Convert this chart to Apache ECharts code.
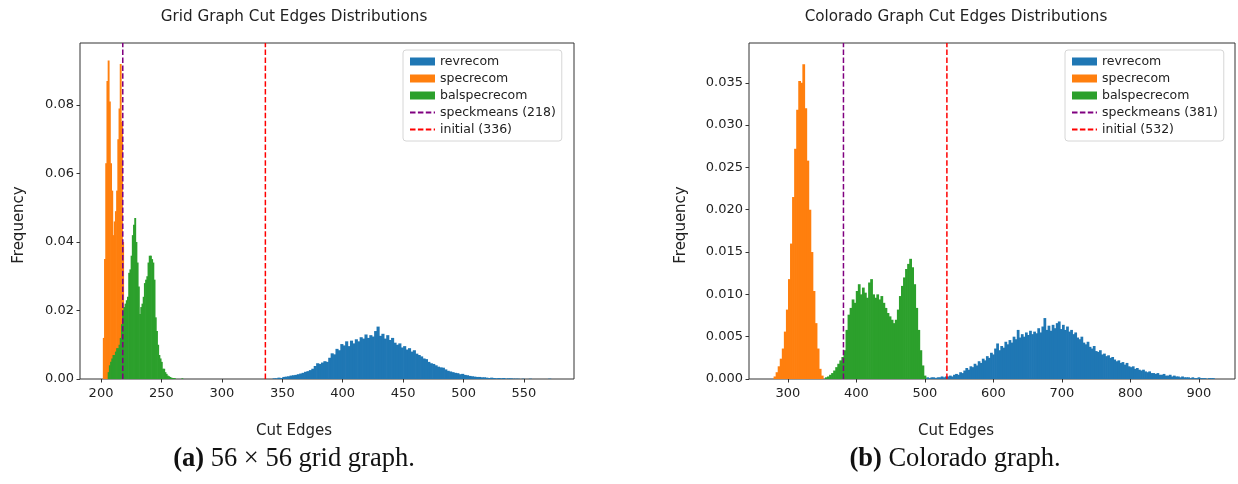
<!DOCTYPE html>
<html>
<head>
<meta charset="utf-8">
<script src="https://cdn.jsdelivr.net/npm/echarts@6/dist/echarts.min.js"></script>
<style>
html, body { margin: 0; padding: 0; background: #fff; }
#chart { width: 1238px; height: 484px; }
</style>
</head>
<body>
<div id="chart"></div>
<script>
// tick labels
var gridXTicks = [200, 250, 300, 350, 400, 450, 500, 550];
var gridYTicks = [0, 0.02, 0.04, 0.06, 0.08];
var coXTicks = [300, 400, 500, 600, 700, 800, 900];
var coYTicks = [0, 0.005, 0.01, 0.015, 0.02, 0.025, 0.03, 0.035];

// grid graph histograms (first bin edge, bin width, densities)
var gridRevStart = 342, gridRevBin = 2;
var gridRev = [
  0.0002, 0.0002, 0.0004, 0.0003, 0.0006, 0.0007, 0.0008, 0.0010, 0.0011, 0.0012,
  0.0014, 0.0016, 0.0018, 0.0021, 0.0023, 0.0026, 0.0030, 0.0038, 0.0046, 0.0044,
  0.0048, 0.0052, 0.0050, 0.0062, 0.0075, 0.0072, 0.0088, 0.0084, 0.0102, 0.0098,
  0.0110, 0.0096, 0.0112, 0.0104, 0.0116, 0.0110, 0.0122, 0.0118, 0.0130, 0.0120,
  0.0128, 0.0124, 0.0140, 0.0153, 0.0126, 0.0132, 0.0118, 0.0128, 0.0114, 0.0120,
  0.0106, 0.0100, 0.0104, 0.0092, 0.0096, 0.0086, 0.0090, 0.0080, 0.0084, 0.0074,
  0.0070, 0.0066, 0.0060, 0.0058, 0.0050, 0.0046, 0.0044, 0.0040, 0.0036, 0.0034,
  0.0033, 0.0028, 0.0024, 0.0022, 0.0020, 0.0018, 0.0017, 0.0014, 0.0015, 0.0012,
  0.0011, 0.0009, 0.0008, 0.0007, 0.0006, 0.0006, 0.0005, 0.0005, 0.0004, 0.0003,
  0.0004, 0.0003, 0.0002, 0.0003, 0.0002, 0.0003, 0.0001, 0.0002, 0.0002, 0.0001,
  0.0001, 0.0001, 0, 0.0001, 0, 0, 0.0001, 0, 0, 0, 0, 0, 0, 0, 0.0001
];
var gridSpecStart = 201.5, gridSpecBin = 1;
var gridSpec = [
  0.012, 0.035, 0.063, 0.087, 0.093, 0.081, 0.063, 0.055, 0.042, 0.046,
  0.049, 0.055, 0.070, 0.079, 0.092, 0.075, 0.040
];
var gridBalStart = 205.5, gridBalBin = 1;
var gridBal = [
  0.002, 0.004, 0.005, 0.006, 0.007, 0.007, 0.008, 0.009, 0.009, 0.010,
  0.012, 0.016, 0.020, 0.021, 0.022, 0.023, 0.024, 0.031, 0.032, 0.036,
  0.042, 0.045, 0.047, 0.040, 0.034, 0.027, 0.019, 0.021, 0.022, 0.024,
  0.028, 0.029, 0.030, 0.034, 0.036, 0.036, 0.035, 0.034, 0.029, 0.018,
  0.014, 0.010, 0.007, 0.006, 0.005, 0.003, 0.003, 0.002, 0.0015, 0.001,
  0.0008, 0.0006, 0.0004, 0.0003, 0.0003, 0.0002, 0, 0, 0, 0,
  0, 0.0002
];
var gridSpeckmeans = 218, gridInitial = 336;

// colorado graph histograms
var coRevStart = 502, coRevBin = 3;
var coRev = [
  0.0002, 0.0001, 0.0002, 0.0002, 0.0001, 0.0002, 0.0002, 0.0003, 0.0002, 0.0003,
  0.0003, 0.0004, 0.0003, 0.0005, 0.0006, 0.0005, 0.0008, 0.0007, 0.0010, 0.0013,
  0.0011, 0.0015, 0.0014, 0.0018, 0.0016, 0.0021, 0.0019, 0.0024, 0.0022, 0.0027,
  0.0025, 0.0031, 0.0029, 0.0036, 0.0042, 0.0034, 0.0039, 0.0037, 0.0044, 0.0041,
  0.0046, 0.0043, 0.0050, 0.0047, 0.0058, 0.0049, 0.0053, 0.0050, 0.0055, 0.0052,
  0.0057, 0.0053, 0.0056, 0.0054, 0.0060, 0.0055, 0.0062, 0.0072, 0.0058, 0.0063,
  0.0057, 0.0064, 0.0060, 0.0066, 0.0068, 0.0059, 0.0064, 0.0058, 0.0062, 0.0056,
  0.0058, 0.0053, 0.0055, 0.0049, 0.0047, 0.0050, 0.0043, 0.0041, 0.0044, 0.0038,
  0.0036, 0.0039, 0.0033, 0.0032, 0.0034, 0.0029, 0.0030, 0.0027, 0.0028, 0.0025,
  0.0026, 0.0023, 0.0021, 0.0022, 0.0019, 0.0020, 0.0017, 0.0019, 0.0015, 0.0014,
  0.0015, 0.0012, 0.0013, 0.0011, 0.0010, 0.0011, 0.0009, 0.0008, 0.0009, 0.0007,
  0.0007, 0.0006, 0.0007, 0.0005, 0.0005, 0.0006, 0.0004, 0.0004, 0.0005, 0.0003,
  0.0004, 0.0003, 0.0003, 0.0002, 0.0003, 0.0002, 0.0002, 0.0002, 0.0001, 0.0002,
  0.0001, 0.0001, 0.0002, 0.0001, 0.0001, 0.0001, 0, 0.0001, 0.0001, 0.0001
];
var coSpecStart = 279, coSpecBin = 3;
var coSpec = [
  0.0003, 0.0008, 0.0015, 0.0024, 0.0036, 0.0056, 0.0082, 0.0118, 0.0160, 0.0215,
  0.0272, 0.0318, 0.0352, 0.0350, 0.0372, 0.0320, 0.0258, 0.0200, 0.0150, 0.0104,
  0.0066, 0.0036, 0.0012, 0.0004
];
var coBalStart = 354, coBalBin = 3;
var coBal = [
  0.0002, 0.0003, 0.0005, 0.0007, 0.0010, 0.0014, 0.0018, 0.0022, 0.0026, 0.0034,
  0.0058, 0.0076, 0.0084, 0.0094, 0.0090, 0.0104, 0.0112, 0.0100, 0.0108, 0.0102,
  0.0096, 0.0114, 0.0118, 0.0100, 0.0096, 0.0100, 0.0094, 0.0098, 0.0090, 0.0084,
  0.0078, 0.0074, 0.0070, 0.0066, 0.0070, 0.0082, 0.0098, 0.0110, 0.0120, 0.0130,
  0.0136, 0.0142, 0.0132, 0.0112, 0.0084, 0.0058, 0.0034, 0.0016, 0.0004
];
var coSpeckmeans = 381, coInitial = 532;

var font = 'DejaVu Sans';
var ink = '#222';

function bins(start, width, heights) {
  var out = [];
  for (var i = 0; i < heights.length; i++) {
    out.push([start + i * width, start + (i + 1) * width, heights[i]]);
  }
  return out;
}

// one rect per bin, a bit wider so neighbours do not leave white seams
function renderBin(params, api) {
  var top = api.coord([api.value(0), api.value(2)]);
  var bottom = api.coord([api.value(1), 0]);
  return {
    type: 'rect',
    shape: { x: top[0], y: top[1], width: bottom[0] - top[0] + 0.7, height: bottom[1] - top[1] },
    style: { fill: api.visual('color') }
  };
}

function histSeries(name, color, idx, data) {
  return {
    name: name, type: 'custom', renderItem: renderBin,
    xAxisIndex: idx, yAxisIndex: idx, clip: true,
    itemStyle: { color: color },
    encode: { x: [0, 1], y: 2 },
    data: data
  };
}

function vline(name, color, idx, x, ymax) {
  return {
    name: name, type: 'line', xAxisIndex: idx, yAxisIndex: idx,
    symbol: 'none', silent: true,
    lineStyle: { color: color, width: 1.5, type: [5.5, 2.4] },
    itemStyle: { color: color },
    data: [[x, 0], [x, ymax]]
  };
}

function xAxisFor(idx, min, max, ticks) {
  return {
    type: 'value', gridIndex: idx, min: min, max: max,
    axisLine: { show: false },
    splitLine: { show: false },
    axisTick: { show: true, length: 3.5, customValues: ticks, lineStyle: { color: '#333' } },
    axisLabel: { customValues: ticks, margin: 8, fontFamily: font, fontSize: 13, color: ink }
  };
}

function yAxisFor(idx, max, ticks, digits) {
  return {
    type: 'value', gridIndex: idx, min: 0, max: max,
    axisLine: { show: false },
    splitLine: { show: false },
    axisTick: { show: true, length: 3.5, customValues: ticks, lineStyle: { color: '#333' } },
    axisLabel: {
      customValues: ticks, margin: 6, fontFamily: font, fontSize: 13, color: ink,
      formatter: function (v) { return v.toFixed(digits); }
    }
  };
}

function legendFor(left, names) {
  return {
    left: left, top: 50, orient: 'vertical', selectedMode: false,
    itemWidth: 25, itemHeight: 8, itemGap: 4,
    padding: [5, 6, 5, 6],
    backgroundColor: '#fff', borderColor: '#d6d6d6', borderWidth: 1, borderRadius: 3,
    textStyle: { fontFamily: font, fontSize: 12.5, color: ink },
    data: [
      { name: 'revrecom', icon: 'rect' },
      { name: 'specrecom', icon: 'rect' },
      { name: 'balspecrecom', icon: 'rect' },
      { name: names[0], itemStyle: { opacity: 0 } },
      { name: names[1], itemStyle: { opacity: 0 } }
    ]
  };
}

function label(x, y, text, size, rotate) {
  return {
    type: 'text', x: x, y: y, rotation: rotate || 0,
    style: { text: text, fontFamily: font, fontSize: size, fill: ink, align: 'center', verticalAlign: 'middle' }
  };
}

function caption(x, y, tag, text) {
  return {
    type: 'text', x: x, y: y,
    style: {
      text: '{b|' + tag + '} ' + text,
      fontFamily: 'Liberation Serif', fontSize: 26.5, fill: '#111',
      align: 'center', verticalAlign: 'middle',
      rich: { b: { fontFamily: 'Liberation Serif', fontSize: 26.5, fontWeight: 'bold', fill: '#111' } }
    }
  };
}

var gridYMax = 0.0981, coYMax = 0.0397;
var blue = '#1f77b4', orange = '#ff7f0e', green = '#2ca02c';

var myChart = echarts.init(document.getElementById('chart'));
var option = {
  animation: false,
  backgroundColor: '#fff',
  grid: [
    { left: 80, top: 43, width: 494, height: 336, show: true, borderColor: '#333', borderWidth: 1, backgroundColor: 'transparent' },
    { left: 749, top: 43, width: 486, height: 336, show: true, borderColor: '#333', borderWidth: 1, backgroundColor: 'transparent' }
  ],
  xAxis: [
    xAxisFor(0, 182.6, 591.4, gridXTicks),
    xAxisFor(1, 243.1, 952.6, coXTicks)
  ],
  yAxis: [
    yAxisFor(0, gridYMax, gridYTicks, 2),
    yAxisFor(1, coYMax, coYTicks, 3)
  ],
  legend: [
    legendFor(403, ['speckmeans (' + gridSpeckmeans + ')', 'initial (' + gridInitial + ')']),
    legendFor(1065, ['speckmeans (' + coSpeckmeans + ')', 'initial (' + coInitial + ')'])
  ],
  series: [
    histSeries('revrecom', blue, 0, bins(gridRevStart, gridRevBin, gridRev)),
    histSeries('specrecom', orange, 0, bins(gridSpecStart, gridSpecBin, gridSpec)),
    histSeries('balspecrecom', green, 0, bins(gridBalStart, gridBalBin, gridBal)),
    vline('speckmeans (' + gridSpeckmeans + ')', 'purple', 0, gridSpeckmeans, gridYMax),
    vline('initial (' + gridInitial + ')', 'red', 0, gridInitial, gridYMax),
    histSeries('revrecom', blue, 1, bins(coRevStart, coRevBin, coRev)),
    histSeries('specrecom', orange, 1, bins(coSpecStart, coSpecBin, coSpec)),
    histSeries('balspecrecom', green, 1, bins(coBalStart, coBalBin, coBal)),
    vline('speckmeans (' + coSpeckmeans + ')', 'purple', 1, coSpeckmeans, coYMax),
    vline('initial (' + coInitial + ')', 'red', 1, coInitial, coYMax)
  ],
  graphic: [
    label(294, 17, 'Grid Graph Cut Edges Distributions', 15.2),
    label(956, 17, 'Colorado Graph Cut Edges Distributions', 15.2),
    label(294, 431, 'Cut Edges', 15),
    label(956, 431, 'Cut Edges', 15),
    label(19, 225, 'Frequency', 15, Math.PI / 2),
    label(681, 225, 'Frequency', 15, Math.PI / 2),
    caption(294, 459, '(a)', '56 × 56 grid graph.'),
    caption(955, 459, '(b)', 'Colorado graph.')
  ]
};
myChart.setOption(option);
</script>
</body>
</html>
